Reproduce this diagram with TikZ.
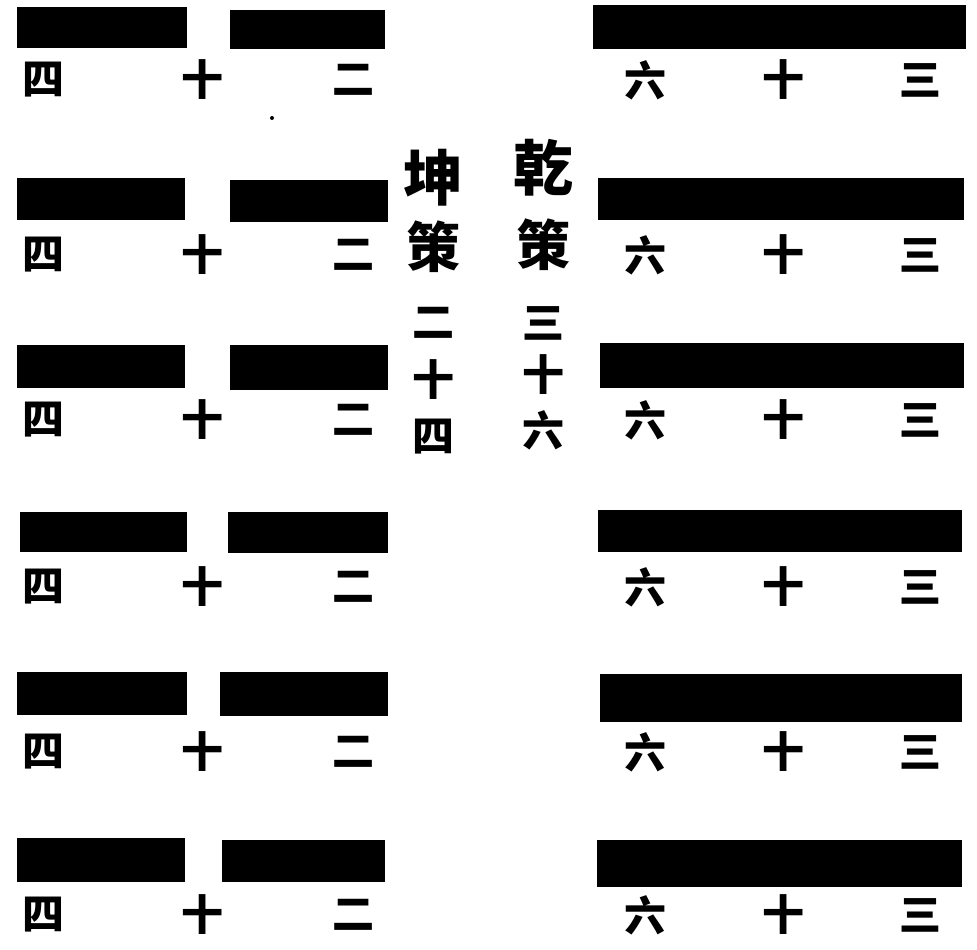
\documentclass[tikz,border=0pt]{standalone}
\usepackage{fontspec}
\newfontfamily\cjk{Noto Sans CJK TC}
\begin{document}
\begin{tikzpicture}[x=1pt,y=-1pt,
  bar/.style={fill=black,draw=none,inner sep=0pt,outer sep=0pt},
  num/.style={font=\cjk\bfseries\fontsize{42}{42}\selectfont,inner sep=0pt},
  big/.style={font=\cjk\bfseries\fontsize{60}{60}\selectfont,inner sep=0pt},
  mid/.style={font=\cjk\bfseries\fontsize{54}{54}\selectfont,inner sep=0pt}]
\useasboundingbox (0,0) rectangle (977,950);
% bars: left broken (yin), right solid (yang)
\fill[bar] (17,7) rectangle (187,48);   \fill[bar] (230,10) rectangle (385,49);  \fill[bar] (593,5) rectangle (966,49);
\fill[bar] (17,178) rectangle (185,220); \fill[bar] (230,180) rectangle (388,222); \fill[bar] (598,178) rectangle (964,220);
\fill[bar] (17,345) rectangle (185,388); \fill[bar] (230,345) rectangle (388,390); \fill[bar] (600,343) rectangle (964,388);
\fill[bar] (20,512) rectangle (187,552); \fill[bar] (228,512) rectangle (388,553); \fill[bar] (598,510) rectangle (962,552);
\fill[bar] (17,672) rectangle (187,715); \fill[bar] (220,672) rectangle (388,716); \fill[bar] (600,674) rectangle (962,722);
\fill[bar] (17,838) rectangle (185,882); \fill[bar] (222,840) rectangle (385,882); \fill[bar] (597,840) rectangle (962,887);
% numbers under lines
\foreach \i/\y in {1/80,2/255,3/420,4/587,5/752,6/915}{
  \node[num] (l4\i) at (44,\y) {四};
  \node[num] (l10\i) at (202,\y) {十};
  \node[num] (l2\i) at (353,\y) {二};
  \node[num] (r6\i) at (645,\y) {六};
  \node[num] (r10\i) at (783,\y) {十};
  \node[num] (r3\i) at (920,\y) {三};
}
% central columns
\node[big] (qian) at (543,168) {乾};
\node[mid] (qce) at (543,245) {策};
\node[num] (q3) at (543,323) {三};
\node[num] (q10) at (543,375) {十};
\node[num] (q6) at (543,430) {六};
\node[big] (kun) at (433,178) {坤};
\node[mid] (kce) at (433,247) {策};
\node[num] (k2) at (433,323) {二};
\node[num] (k10) at (433,380) {十};
\node[num] (k4) at (433,437) {四};
\fill (272,118) circle (2);
\end{tikzpicture}
\end{document}
